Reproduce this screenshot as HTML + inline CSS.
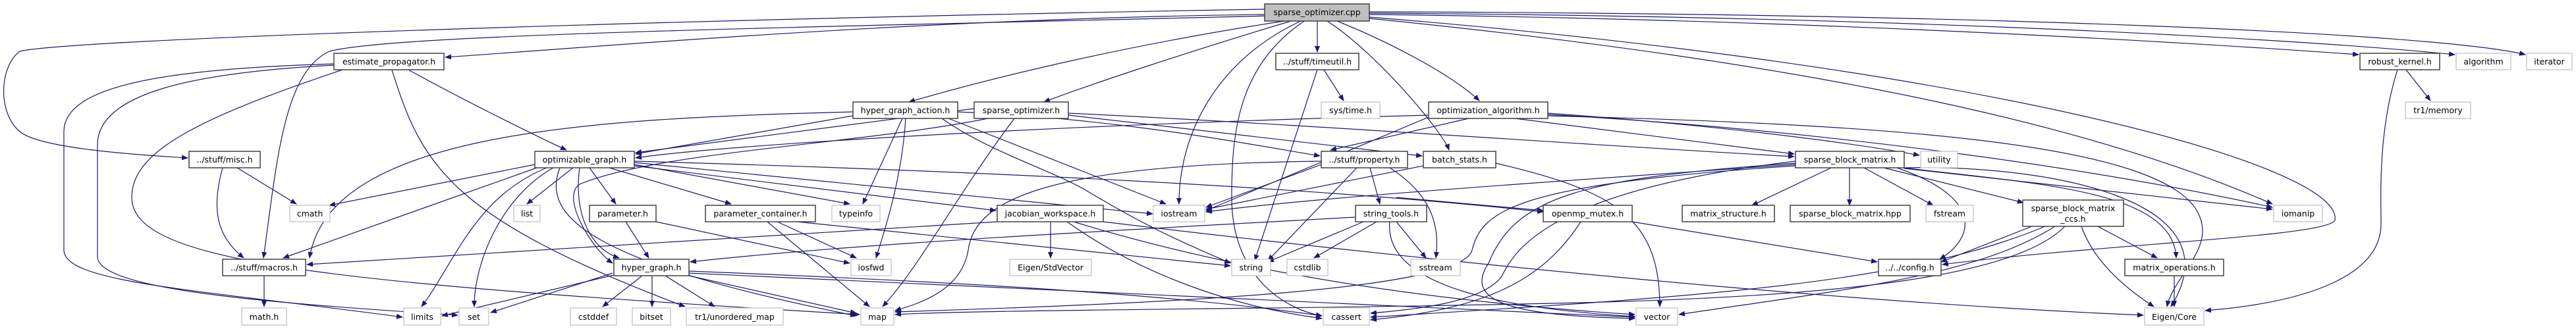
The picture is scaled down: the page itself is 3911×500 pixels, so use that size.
<!DOCTYPE html>
<html><head><meta charset="utf-8"><style>
html,body{margin:0;padding:0;background:#fff;}
svg{display:block;}
text{font-family:"DejaVu Sans","Liberation Sans",sans-serif;font-size:12.5px;fill:#000;}
.e{fill:none;stroke:#191970;stroke-width:1.2;marker-end:url(#a);}
.n{fill:#fff;stroke:#404040;stroke-width:1.5;}
.g{fill:#fff;stroke:#bfbfbf;stroke-width:1.2;}
</style></head><body>
<svg width="3911" height="500" viewBox="0 0 3911 500" xmlns="http://www.w3.org/2000/svg">
<defs><marker id="a" markerWidth="10" markerHeight="8" refX="9" refY="4" orient="auto" markerUnits="userSpaceOnUse"><path d="M0,0 L10,4 L0,8 Z" fill="#191970"/></marker></defs>
<g>
<path class="e" d="M1920,22 C1400,28 900,72 676,87"/>
<path class="e" d="M1920,14 C1000,30 100,60 30,78 C0,100 -5,170 30,200 C60,225 200,235 285,240"/>
<path class="e" d="M1930,24 C1200,42 600,52 500,78 C430,110 420,250 400,392"/>
<path class="e" d="M1950,32 C1700,70 1500,120 1380,155"/>
<path class="e" d="M1960,32 C1800,80 1650,130 1585,155"/>
<path class="e" d="M1975,32 C1850,90 1790,200 1790,310"/>
<path class="e" d="M2000,32 L2000,79"/>
<path class="e" d="M1980,32 C1880,100 1870,200 1870,300 C1870,420 1950,470 2007,480"/>
<path class="e" d="M2015,32 C2090,80 2190,200 2200,228"/>
<path class="e" d="M2030,32 C2100,60 2200,110 2246,153"/>
<path class="e" d="M2079,22 C2800,30 3400,70 3581,83"/>
<path class="e" d="M2079,20 C2900,25 3500,60 3727,83"/>
<path class="e" d="M2079,18 C3000,20 3700,50 3834,83"/>
<path class="e" d="M2079,28 C2800,100 3200,200 3450,310"/>
<path class="e" d="M2079,26 C3000,100 3560,250 3545,335 C3530,360 3200,370 2949,402"/>
<path class="e" d="M620,106 C700,150 800,200 860,228"/>
<path class="e" d="M507,97 C250,105 97,130 97,200 L97,380 C97,430 300,440 611,482"/>
<path class="e" d="M507,99 C300,110 148,140 148,220 L148,390 C148,440 400,460 695,479"/>
<path class="e" d="M520,106 C300,180 200,230 200,300 C200,400 500,430 1305,478"/>
<path class="e" d="M595,106 C640,250 680,330 1040,466"/>
<path class="e" d="M338,255 C320,320 330,360 370,392"/>
<path class="e" d="M360,255 L450,310"/>
<path class="e" d="M401,419 L401,466"/>
<path class="e" d="M1300,175 L965,234"/>
<path class="e" d="M1370,180 L1310,310"/>
<path class="e" d="M1375,180 C1370,260 1350,330 1330,392"/>
<path class="e" d="M1440,180 L1770,310"/>
<path class="e" d="M1295,170 C900,180 500,200 470,392"/>
<path class="e" d="M1430,180 C1500,230 1600,260 1650,290 C1750,350 1800,370 1868,400"/>
<path class="e" d="M1454,170 C1700,180 1900,220 2004,237"/>
<path class="e" d="M870,255 L800,310"/>
<path class="e" d="M895,255 L935,310"/>
<path class="e" d="M925,255 L1110,310"/>
<path class="e" d="M963,250 L1290,310"/>
<path class="e" d="M880,255 C870,330 900,380 940,392"/>
<path class="e" d="M840,255 C760,300 720,400 720,466"/>
<path class="e" d="M830,255 C720,300 690,400 640,466"/>
<path class="e" d="M815,255 L430,392"/>
<path class="e" d="M812,250 L500,312"/>
<path class="e" d="M963,247 L1750,325"/>
<path class="e" d="M963,252 L1512,320"/>
<path class="e" d="M963,245 C1500,260 2000,285 2343,322"/>
<path class="e" d="M850,255 C820,330 900,400 1300,480"/>
<path class="e" d="M950,337 L985,392"/>
<path class="e" d="M996,337 L1290,400"/>
<path class="e" d="M1165,337 L1320,466"/>
<path class="e" d="M1180,337 L1300,392"/>
<path class="e" d="M1210,337 L1868,404"/>
<path class="e" d="M930,415 L745,475"/>
<path class="e" d="M932,418 L671,480"/>
<path class="e" d="M975,419 L915,466"/>
<path class="e" d="M990,419 L990,466"/>
<path class="e" d="M1010,419 L1085,466"/>
<path class="e" d="M1046,419 L1300,476"/>
<path class="e" d="M1046,412 C1500,430 1800,450 2007,480"/>
<path class="e" d="M1046,415 C1600,440 2100,460 2482,482"/>
<path class="e" d="M1479,165 L965,232"/>
<path class="e" d="M1540,180 C1450,300 1400,400 1340,466"/>
<path class="e" d="M1622,172 C2000,190 2400,220 2724,238"/>
<path class="e" d="M1622,175 L2159,237"/>
<path class="e" d="M1500,180 C1300,220 1000,230 880,280 C850,300 900,380 930,400"/>
<path class="e" d="M2010,106 L2040,153"/>
<path class="e" d="M2000,106 L1905,396"/>
<path class="e" d="M2060,255 L1925,396"/>
<path class="e" d="M2080,255 L2095,310"/>
<path class="e" d="M2110,255 C2180,300 2185,350 2180,392"/>
<path class="e" d="M2006,245 C1600,250 1480,300 1470,380 C1460,440 1400,460 1359,472"/>
<path class="e" d="M2006,250 L1831,315"/>
<path class="e" d="M2070,337 L1925,398"/>
<path class="e" d="M2090,337 L1995,392"/>
<path class="e" d="M2120,337 L2165,392"/>
<path class="e" d="M2110,337 C2100,440 2300,470 2482,481"/>
<path class="e" d="M2058,330 C1700,350 1300,370 1048,398"/>
<path class="e" d="M2120,300 L2343,320"/>
<path class="e" d="M2271,248 C2450,290 2520,330 2520,466"/>
<path class="e" d="M2161,252 L1831,318"/>
<path class="e" d="M2230,180 L2020,228"/>
<path class="e" d="M2300,180 L2724,234"/>
<path class="e" d="M2169,178 L1831,320"/>
<path class="e" d="M2350,172 C2600,190 2800,215 2914,236"/>
<path class="e" d="M2350,174 C2800,200 3200,260 3450,315"/>
<path class="e" d="M2169,175 C1600,190 1100,220 965,240"/>
<path class="e" d="M2350,176 C2900,190 3300,220 3340,330 C3360,380 3300,420 3290,466"/>
<path class="e" d="M2780,255 L2660,312"/>
<path class="e" d="M2808,255 L2808,312"/>
<path class="e" d="M2830,255 L2935,312"/>
<path class="e" d="M2860,255 L3072,308"/>
<path class="e" d="M2880,255 C3010,300 3000,360 2945,394"/>
<path class="e" d="M2890,255 C3100,280 3300,290 3304,392"/>
<path class="e" d="M2891,255 C3100,250 3400,300 3296,466"/>
<path class="e" d="M2891,256 L3450,318"/>
<path class="e" d="M2726,248 C2400,270 2300,300 2260,400 C2220,460 2300,480 2482,484"/>
<path class="e" d="M2726,245 C2350,290 2300,380 2280,420 C2250,460 2150,470 2081,476"/>
<path class="e" d="M2726,250 C2300,280 2000,300 1831,322"/>
<path class="e" d="M2726,252 C2300,280 2250,320 2235,380 C2220,440 1800,460 1359,474"/>
<path class="e" d="M3085,344 L2947,398"/>
<path class="e" d="M3185,344 L3275,392"/>
<path class="e" d="M3160,344 C3180,400 3230,440 3270,466"/>
<path class="e" d="M3120,344 C3000,420 2800,440 2549,478"/>
<path class="e" d="M3105,344 C2900,430 2600,450 2081,482"/>
<path class="e" d="M3135,344 C3060,420 2800,450 2400,460 C2000,470 1500,470 1359,478"/>
<path class="e" d="M3301,419 L3301,466"/>
<path class="e" d="M2400,337 C2340,430 2250,470 2081,486"/>
<path class="e" d="M2478,337 L2850,398"/>
<path class="e" d="M1595,337 L1595,392"/>
<path class="e" d="M1620,337 C1750,430 1900,470 2007,484"/>
<path class="e" d="M1630,337 C1900,420 2200,460 2482,478"/>
<path class="e" d="M1675,337 C2200,400 2800,460 3254,479"/>
<path class="e" d="M1514,337 L466,402"/>
<path class="e" d="M3653,106 L3690,153"/>
<path class="e" d="M3640,106 C3610,200 3615,300 3615,340 C3615,420 3500,460 3348,472"/>
</g>
<g>
<rect x="1920" y="6" width="159" height="26" fill="#bfbfbf" stroke="#404040" stroke-width="1.5"/><text x="1999.5" y="23" text-anchor="middle">sparse_optimizer.cpp</text>
<rect class="n" x="507" y="81" width="167" height="25"/><text x="590.5" y="98" text-anchor="middle">estimate_propagator.h</text>
<rect class="n" x="1937" y="81" width="126" height="25"/><text x="2000" y="98" text-anchor="middle">../stuff/timeutil.h</text>
<rect class="n" x="3583" y="81" width="121" height="25"/><text x="3643.5" y="98" text-anchor="middle">robust_kernel.h</text>
<rect class="g" x="3729" y="81" width="83" height="25"/><text x="3770.5" y="98" text-anchor="middle">algorithm</text>
<rect class="g" x="3836" y="81" width="69" height="25"/><text x="3870.5" y="98" text-anchor="middle">iterator</text>
<rect class="n" x="1295" y="155" width="159" height="25"/><text x="1374.5" y="172" text-anchor="middle">hyper_graph_action.h</text>
<rect class="n" x="1479" y="155" width="143" height="25"/><text x="1550.5" y="172" text-anchor="middle">sparse_optimizer.h</text>
<rect class="g" x="2006" y="155" width="89" height="25"/><text x="2050.5" y="172" text-anchor="middle">sys/time.h</text>
<rect class="n" x="2169" y="155" width="181" height="25"/><text x="2259.5" y="172" text-anchor="middle">optimization_algorithm.h</text>
<rect class="g" x="3652" y="155" width="99" height="25"/><text x="3701.5" y="172" text-anchor="middle">tr1/memory</text>
<rect class="n" x="287" y="230" width="108" height="25"/><text x="341" y="247" text-anchor="middle">../stuff/misc.h</text>
<rect class="n" x="812" y="230" width="151" height="25"/><text x="887.5" y="247" text-anchor="middle">optimizable_graph.h</text>
<rect class="n" x="2006" y="230" width="131" height="25"/><text x="2071.5" y="247" text-anchor="middle">../stuff/property.h</text>
<rect class="n" x="2161" y="230" width="110" height="25"/><text x="2216" y="247" text-anchor="middle">batch_stats.h</text>
<rect class="n" x="2726" y="230" width="165" height="25"/><text x="2808.5" y="247" text-anchor="middle">sparse_block_matrix.h</text>
<rect class="g" x="2916" y="230" width="56" height="25"/><text x="2944" y="247" text-anchor="middle">utility</text>
<rect class="g" x="440" y="312" width="61" height="25"/><text x="470.5" y="329" text-anchor="middle">cmath</text>
<rect class="g" x="780" y="312" width="40" height="25"/><text x="800" y="329" text-anchor="middle">list</text>
<rect class="n" x="895" y="312" width="101" height="25"/><text x="945.5" y="329" text-anchor="middle">parameter.h</text>
<rect class="n" x="1071" y="312" width="167" height="25"/><text x="1154.5" y="329" text-anchor="middle">parameter_container.h</text>
<rect class="g" x="1263" y="312" width="73" height="25"/><text x="1299.5" y="329" text-anchor="middle">typeinfo</text>
<rect class="n" x="1514" y="312" width="161" height="25"/><text x="1594.5" y="329" text-anchor="middle">jacobian_workspace.h</text>
<rect class="g" x="1751" y="312" width="78" height="25"/><text x="1790" y="329" text-anchor="middle">iostream</text>
<rect class="n" x="2058" y="312" width="108" height="25"/><text x="2112" y="329" text-anchor="middle">string_tools.h</text>
<rect class="n" x="2343" y="312" width="135" height="25"/><text x="2410.5" y="329" text-anchor="middle">openmp_mutex.h</text>
<rect class="n" x="2554" y="312" width="140" height="25"/><text x="2624" y="329" text-anchor="middle">matrix_structure.h</text>
<rect class="n" x="2718" y="312" width="182" height="25"/><text x="2809" y="329" text-anchor="middle">sparse_block_matrix.hpp</text>
<rect class="g" x="2924" y="312" width="72" height="25"/><text x="2960" y="329" text-anchor="middle">fstream</text>
<rect class="n" x="3071" y="304" width="153" height="40"/><text x="3147.5" y="321" text-anchor="middle">sparse_block_matrix</text><text x="3147.5" y="337" text-anchor="middle">_ccs.h</text>
<rect class="g" x="3452" y="312" width="74" height="25"/><text x="3489" y="329" text-anchor="middle">iomanip</text>
<rect class="n" x="338" y="394" width="126" height="25"/><text x="401" y="411" text-anchor="middle">../stuff/macros.h</text>
<rect class="n" x="932" y="394" width="114" height="25"/><text x="989" y="411" text-anchor="middle">hyper_graph.h</text>
<rect class="g" x="1292" y="394" width="61" height="25"/><text x="1322.5" y="411" text-anchor="middle">iosfwd</text>
<rect class="g" x="1533" y="394" width="124" height="25"/><text x="1595" y="411" text-anchor="middle">Eigen/StdVector</text>
<rect class="g" x="1870" y="394" width="59" height="25"/><text x="1899.5" y="411" text-anchor="middle">string</text>
<rect class="g" x="1954" y="394" width="62" height="25"/><text x="1985" y="411" text-anchor="middle">cstdlib</text>
<rect class="g" x="2142" y="394" width="75" height="25"/><text x="2179.5" y="411" text-anchor="middle">sstream</text>
<rect class="n" x="2852" y="394" width="95" height="25"/><text x="2899.5" y="411" text-anchor="middle">../../config.h</text>
<rect class="n" x="3226" y="394" width="150" height="25"/><text x="3301" y="411" text-anchor="middle">matrix_operations.h</text>
<rect class="g" x="367" y="468" width="68" height="26"/><text x="401" y="486" text-anchor="middle">math.h</text>
<rect class="g" x="613" y="468" width="56" height="26"/><text x="641" y="486" text-anchor="middle">limits</text>
<rect class="g" x="697" y="468" width="45" height="26"/><text x="719.5" y="486" text-anchor="middle">set</text>
<rect class="g" x="866" y="468" width="70" height="26"/><text x="901" y="486" text-anchor="middle">cstddef</text>
<rect class="g" x="960" y="468" width="58" height="26"/><text x="989" y="486" text-anchor="middle">bitset</text>
<rect class="g" x="1042" y="468" width="147" height="26"/><text x="1115.5" y="486" text-anchor="middle">tr1/unordered_map</text>
<rect class="g" x="1307" y="468" width="50" height="26"/><text x="1332" y="486" text-anchor="middle">map</text>
<rect class="g" x="2009" y="468" width="70" height="26"/><text x="2044" y="486" text-anchor="middle">cassert</text>
<rect class="g" x="2484" y="468" width="63" height="26"/><text x="2515.5" y="486" text-anchor="middle">vector</text>
<rect class="g" x="3256" y="468" width="90" height="26"/><text x="3301" y="486" text-anchor="middle">Eigen/Core</text>
</g>
</svg>
</body></html>
